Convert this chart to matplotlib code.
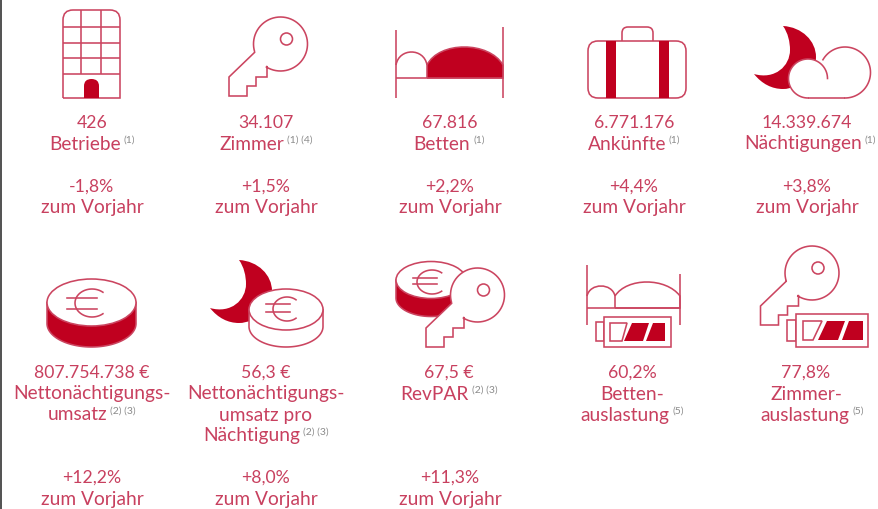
import numpy as np
import matplotlib
matplotlib.use("Agg")
import matplotlib.pyplot as plt
from matplotlib.path import Path
from matplotlib.patches import PathPatch, Circle, Ellipse, Rectangle, Polygon, FancyBboxPatch

RED = "#c0001f"
LINE = "#cb4560"
TXT = "#c8405f"
GREY = "#8a8a8a"
LW = 1.15

# Werte
values_top = ["426", "34.107", "67.816", "6.771.176", "14.339.674"]
labels_top = [["Betriebe"], ["Zimmer"], ["Betten"], ["Ankünfte"], ["Nächtigungen"]]
notes_top = ["(1)", "(1) (4)", "(1)", "(1)", "(1)"]
change_top = ["-1,8%", "+1,5%", "+2,2%", "+4,4%", "+3,8%"]
centers_top = [92, 266, 450, 634, 807]
note_centers_top = [92, 266, 449, 634, 810]

values_bottom = ["807.754.738 €", "56,3 €", "67,5 €", "60,2%", "77,8%"]
labels_bottom = [["Nettonächtigungs-", "umsatz"],
                 ["Nettonächtigungs-", "umsatz pro", "Nächtigung"],
                 ["RevPAR"],
                 ["Betten-", "auslastung"],
                 ["Zimmer-", "auslastung"]]
notes_bottom = ["(2) (3)", "(2) (3)", "(2) (3)", "(5)", "(5)"]
change_bottom = ["+12,2%", "+8,0%", "+11,3%"]
centers_bottom = [92, 266, 449, 632, 806]
note_centers_bottom = [92, 266, 449, 632, 812]
centers_change = [92, 266, 450]

fig = plt.figure(figsize=(8.79, 5.09), dpi=100)
ax = fig.add_axes([0, 0, 1, 1])
ax.set_xlim(0, 879)
ax.set_ylim(509, 0)
ax.axis("off")
plt.rcParams["font.family"] = ["Lato", "DejaVu Sans"]
FS = 13.8
FS_NUM = 12.7
renderer = fig.canvas.get_renderer()


def line(xs, ys, z=3):
    ax.plot(xs, ys, color=LINE, lw=LW, solid_capstyle="butt", zorder=z)


def curve(verts, codes, fc="none", ec=LINE, z=3):
    ax.add_patch(PathPatch(Path(verts, codes), fc=fc, ec=ec, lw=LW if ec != "none" else 0, zorder=z))


def poly(pts, fc="white", ec=LINE, z=3):
    ax.add_patch(Polygon(pts, closed=True, fc=fc, ec=ec, lw=LW if ec != "none" else 0, zorder=z))


def rounded(x, y, w, h, r, fc="none", z=3):
    ax.add_patch(FancyBboxPatch((x + r, y + r), w - 2 * r, h - 2 * r, boxstyle=f"round,pad={r},rounding_size={r}",
                                fc=fc, ec=LINE, lw=LW, zorder=z))


def key(cx, cy, z=5):
    # Schlüssel: Kopf plus Bart, alles relativ zum Kreismittelpunkt
    bart = [(-13.5, 22), (-13.5, 33), (-24.5, 33), (-24.5, 42), (-33.5, 42), (-33.5, 52),
            (-51.5, 52), (-51.5, 33), (-25.5, 8)]
    a = np.radians(np.linspace(162.6 - 360, 121.5, 60))
    kopf = list(zip(27 * np.cos(a), 27 * np.sin(a)))
    pts = [(cx + x, cy + y) for x, y in kopf + bart]
    poly(pts, z=z)
    ax.add_patch(Circle((cx + 6, cy - 5), 6, fc="white", ec=LINE, lw=LW, zorder=z + 0.1))


def moon(dx, dy, z=2):
    v = [(754, 74), (762, 84), (772, 89), (783, 89), (800, 89), (816, 73), (816, 57),
         (816, 41), (802, 27), (783, 26), (788, 33), (790, 42), (790, 50),
         (790, 66), (775, 80), (754, 74), (754, 74)]
    c = [Path.MOVETO] + [Path.CURVE4] * 15 + [Path.CLOSEPOLY]
    curve([(x + dx, y + dy) for x, y in v], c, fc=RED, ec="none", z=z)


def coin(cx, cy, rx, ry, h, side, z=3):
    t = np.linspace(0, np.pi, 60)
    low = list(zip(cx + rx * np.cos(t), cy + h + ry * np.sin(t)))
    poly([(cx + rx, cy)] + low + [(cx - rx, cy)], fc=side, z=z)
    ax.add_patch(Ellipse((cx, cy), 2 * rx, 2 * ry, fc="white", ec=LINE, lw=LW, zorder=z + 0.1))


def euro(cx, cy, rx, ry, x0, x1, y0, y1, z=3.5):
    a = np.radians(np.linspace(50, 310, 50))
    ax.plot(cx + rx * np.cos(a), cy + ry * np.sin(a), color=LINE, lw=LW, zorder=z)
    ax.plot([x0, x1], [y0, y0], color=LINE, lw=LW, zorder=z)
    ax.plot([x0, x1], [y1, y1], color=LINE, lw=LW, zorder=z)


def bed(xl, xr, yl, yr0, ybase, yend, xmid, ytop_small, ytop_big, ypost_end, big_fc="none"):
    line([xl, xl], [yl, ypost_end])
    line([xr, xr], [yr0, ypost_end])
    line([xl, xr], [ybase, ybase])
    k = 4 / 3 * (yend - ytop_small)
    curve([(xl, yend), (xl + 3, yend - k), (xmid - 3, yend - k), (xmid, yend)],
          [Path.MOVETO] + [Path.CURVE4] * 3)
    k = 4 / 3 * (yend - ytop_big)
    big = [(xmid, ybase), (xmid, yend), (xmid + 12, yend - k), (xr - 14, yend - k), (xr, yend), (xr, ybase), (xmid, ybase)]
    curve(big, [Path.MOVETO, Path.LINETO, Path.CURVE4, Path.CURVE4, Path.CURVE4, Path.LINETO, Path.LINETO], fc=big_fc)


def battery(x0, x1, y0, y1, nx, ny0, ny1, seg0, seg1, seg2):
    ax.add_patch(Rectangle((nx, ny0), x0 - nx, ny1 - ny0, fc="white", ec=LINE, lw=LW, zorder=6))
    ax.add_patch(Rectangle((x0, y0), x1 - x0, y1 - y0, fc="white", ec=LINE, lw=LW, zorder=6))
    poly(seg0, z=7)
    poly(seg1, fc=RED, ec="none", z=7)
    poly(seg2, fc=RED, ec="none", z=7)


# linker Rand
ax.plot([1, 1], [0, 509], color="#333333", lw=1.2)

# Betriebe
curve([(63, 98), (63, 20), (63, 10), (73, 10), (110, 10), (120, 10), (120, 20), (120, 98), (63, 98)],
      [Path.MOVETO, Path.LINETO, Path.CURVE3, Path.CURVE3, Path.LINETO, Path.CURVE3, Path.CURVE3,
       Path.LINETO, Path.LINETO])
for yy in [27, 42.5, 58, 74]:
    line([63, 120], [yy, yy])
for xx in [81.5, 101]:
    line([xx, xx], [10, 74])
curve([(84, 98), (84, 86), (84, 79), (91.5, 79), (99, 79), (99, 86), (99, 98), (84, 98)],
      [Path.MOVETO, Path.LINETO, Path.CURVE3, Path.CURVE3, Path.CURVE3, Path.CURVE3, Path.LINETO, Path.LINETO],
      fc=RED, ec="none")

# Zimmer
key(280.5, 44)

# Betten
bed(396, 503, 30, 27, 78, 65, 427, 52, 47, 98, big_fc=RED)

# Ankünfte
rounded(622, 27, 31, 30, 6)
rounded(588, 41, 98, 57, 10, fc="white", z=3.2)
for xa, xb in [(606, 616), (659, 669)]:
    ax.add_patch(Rectangle((xa, 41), xb - xa, 57, fc=RED, ec="none", zorder=3.5))

# Nächtigungen
moon(0, 0)
ax.add_patch(Circle((808, 78.5), 19.5, fc="white", ec="none", zorder=3))
ax.add_patch(Circle((845, 72.5), 25.5, fc="white", ec="none", zorder=3))
ax.add_patch(Rectangle((808, 72), 37, 26, fc="white", ec="none", zorder=3))
a1 = np.radians(np.linspace(90, 360, 60))
a2 = np.radians(np.linspace(-150, 90, 60))
ax.plot(808 + 19.5 * np.cos(a1), 78.5 + 19.5 * np.sin(a1), color=LINE, lw=LW, zorder=3.5)
ax.plot(845 + 25.5 * np.cos(a2), 72.5 + 25.5 * np.sin(a2), color=LINE, lw=LW, zorder=3.5)
line([808, 845], [98, 98], z=3.5)

# Nettonächtigungsumsatz
coin(91.5, 302.5, 44.5, 23.5, 21, RED)
euro(92, 303, 17, 14, 67, 97, 298, 309)

# pro Nächtigung
moon(-544, 234)
coin(286, 309.5, 37, 20.5, 17, "white")
euro(287, 309, 14, 12, 266, 290, 304, 312)

# RevPAR
coin(431, 280, 35, 18.5, 18, RED)
euro(432, 282, 15, 12, 413, 437, 278, 284)
key(477.5, 295)

# Bettenauslastung
bed(587, 680, 265, 274, 308, 296, 615, 286, 282, 325)
battery(604, 671, 317, 347, 596, 322, 341,
        [(610, 323), (627, 323), (622, 341), (610, 341)],
        [(632, 323), (649, 323), (643, 341), (624, 341)],
        [(653, 323), (665, 323), (665, 341), (646, 341)])

# Zimmerauslastung
key(812, 273)
battery(796, 868, 314, 347, 787, 320, 341,
        [(803, 321), (822, 321), (813, 340), (803, 340)],
        [(827, 321), (845, 321), (838, 340), (818, 340)],
        [(849, 321), (863, 321), (863, 340), (842, 340)])


def label_with_note(cx, y, text, note):
    # Fußnote klein und grau daneben, beides zusammen zentriert
    t = ax.text(0, y, text, fontsize=FS, color=TXT, ha="left", va="center")
    n = ax.text(0, y - 4, note, fontsize=7.5, color=GREY, ha="left", va="center")
    w1 = t.get_window_extent(renderer).width
    w2 = n.get_window_extent(renderer).width
    left = cx - (w1 + 3 + w2) / 2
    t.set_x(left)
    n.set_x(left + w1 + 3)


def block(cx, note_cx, y, value, lines, note):
    ax.text(cx, y, value, fontsize=FS_NUM, color=TXT, ha="center", va="center")
    for i, s in enumerate(lines):
        yy = y + 21 * (i + 1)
        if i == len(lines) - 1:
            label_with_note(note_cx, yy, s, note)
        else:
            ax.text(cx, yy, s, fontsize=FS, color=TXT, ha="center", va="center")


for i in range(5):
    block(centers_top[i], note_centers_top[i], 123, values_top[i], labels_top[i], notes_top[i])
    ax.text(centers_top[i], 187, change_top[i], fontsize=FS_NUM, color=TXT, ha="center", va="center")
    ax.text(centers_top[i], 208, "zum Vorjahr", fontsize=FS, color=TXT, ha="center", va="center")

for i in range(5):
    block(centers_bottom[i], note_centers_bottom[i], 373, values_bottom[i], labels_bottom[i], notes_bottom[i])

for i in range(3):
    ax.text(centers_change[i], 478, change_bottom[i], fontsize=FS_NUM, color=TXT, ha="center", va="center")
    ax.text(centers_change[i], 499, "zum Vorjahr", fontsize=FS, color=TXT, ha="center", va="center")

fig.savefig("out.png", dpi=100, facecolor="white")
